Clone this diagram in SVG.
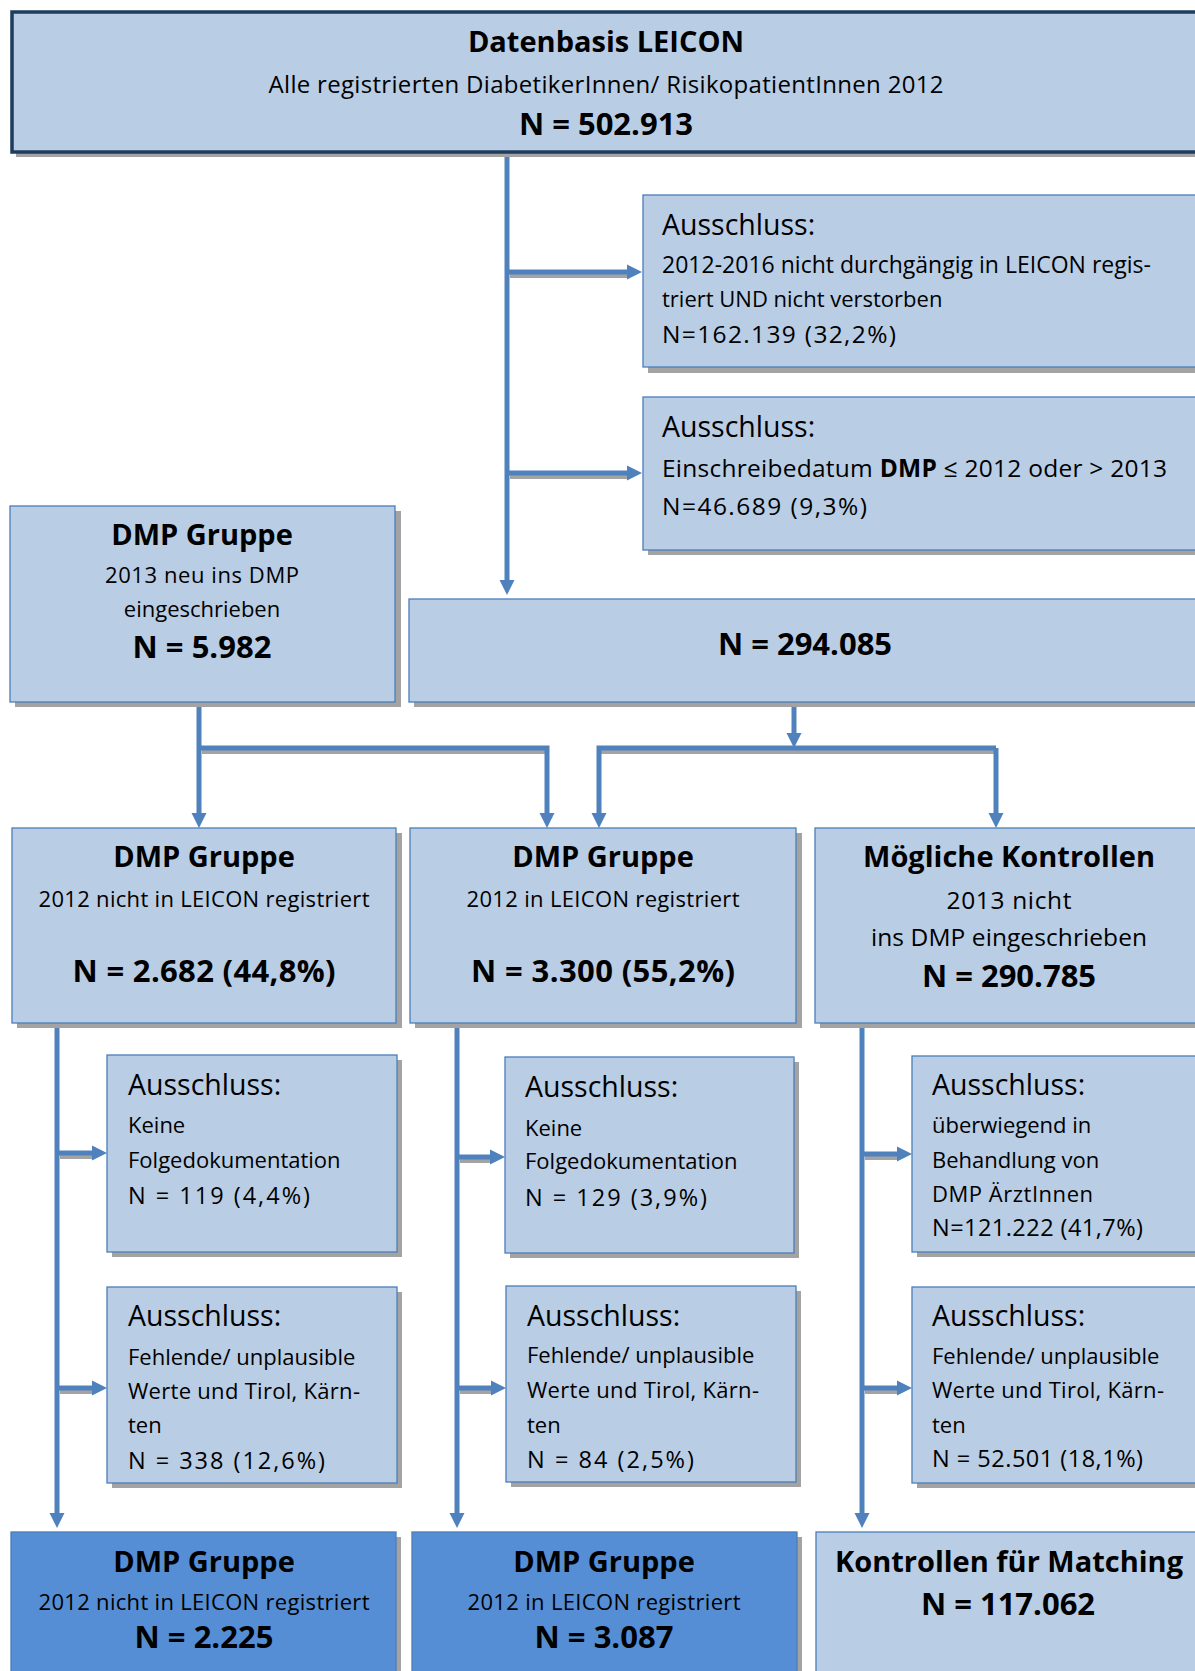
<svg xmlns="http://www.w3.org/2000/svg" width="1195" height="1671" viewBox="0 0 1195 1671">
<defs>
<style>
.box{fill:#B9CDE5;stroke:#4A7EBB;stroke-width:1.3}
.dark{fill:#558ED5;stroke:#4A7EBB;stroke-width:1.3}
.top{fill:#B9CDE5;stroke:#1F3B5F;stroke-width:3.5}
.sh{fill:#A3A3A3}
.con{fill:none;stroke:#4F81BD;stroke-width:5}
.consh{fill:none;stroke:#A3A3A3;stroke-width:4}
text{font-family:"Open Sans","Noto Sans","DejaVu Sans",sans-serif;fill:#000}
.t{font-size:29px;font-weight:bold;text-anchor:middle}
.s{font-size:22px;text-anchor:middle}
.n{font-size:31px;font-weight:bold;text-anchor:middle}
.h{font-size:28.5px}
.b{font-size:22px}
.bn{font-size:23.5px}
.bl{font-size:24.5px}
</style>
<marker id="ah" markerUnits="userSpaceOnUse" markerWidth="16" markerHeight="16" refX="0" refY="8" orient="auto">
<path d="M0,0.5 L15,8 L0,15.5 z" fill="#4F81BD"/>
</marker>
</defs>

<g id="connectors">
<g class="shadows">
<path class="consh" d="M510,276 H628"/>
<path class="consh" d="M510,477 H628"/>
<path class="consh" d="M202,752 H548"/>
<path class="consh" d="M601,752 H996"/>
<path class="consh" d="M60,1157 H93"/>
<path class="consh" d="M60,1392 H93"/>
<path class="consh" d="M460,1161 H491"/>
<path class="consh" d="M460,1392 H491"/>
<path class="consh" d="M865,1158 H898"/>
<path class="consh" d="M865,1392 H898"/>
</g>
<path class="con" d="M507,152 V580" marker-end="url(#ah)"/>
<path class="con" d="M507,272 H627" marker-end="url(#ah)"/>
<path class="con" d="M507,473 H627" marker-end="url(#ah)"/>
<path class="con" d="M199,702 V813" marker-end="url(#ah)"/>
<path class="con" d="M199,748 H547 V813" marker-end="url(#ah)"/>
<path class="con" d="M794,702 V733" marker-end="url(#ah)"/>
<path class="con" d="M996,748 H599 V813" marker-end="url(#ah)"/>
<path class="con" d="M996,748 V813" marker-end="url(#ah)"/>
<path class="con" d="M57,1023 V1513" marker-end="url(#ah)"/>
<path class="con" d="M57,1153 H92" marker-end="url(#ah)"/>
<path class="con" d="M57,1388 H92" marker-end="url(#ah)"/>
<path class="con" d="M457,1023 V1513" marker-end="url(#ah)"/>
<path class="con" d="M457,1157 H490" marker-end="url(#ah)"/>
<path class="con" d="M457,1388 H491" marker-end="url(#ah)"/>
<path class="con" d="M862,1023 V1513" marker-end="url(#ah)"/>
<path class="con" d="M862,1154 H897" marker-end="url(#ah)"/>
<path class="con" d="M862,1388 H897" marker-end="url(#ah)"/>
</g>

<g id="n_datenbasis">
<rect class="sh" x="16" y="152" width="1200" height="5"/>
<rect class="top" x="12" y="12" width="1200" height="140"/>
<text class="t" x="606" y="52">Datenbasis LEICON</text>
<text class="s" x="606" y="93" style="font-size:24px" textLength="675">Alle registrierten DiabetikerInnen/ RisikopatientInnen 2012</text>
<text class="n" x="606" y="135">N = 502.913</text>
</g>

<g id="n_ausschluss1">
<rect class="sh" x="648" y="200" width="570" height="173"/>
<rect class="box" x="643" y="195" width="570" height="172"/>
<text class="h" x="662" y="235">Ausschluss:</text>
<text class="b" x="662" y="273" style="font-size:23px" textLength="489">2012-2016 nicht durchgängig in LEICON regis-</text>
<text class="b" x="662" y="307">triert UND nicht verstorben</text>
<text class="bl" x="662" y="343" textLength="234">N=162.139 (32,2%)</text>
</g>

<g id="n_ausschluss2">
<rect class="sh" x="648" y="402" width="570" height="153"/>
<rect class="box" x="643" y="397" width="570" height="153"/>
<text class="h" x="662" y="437">Ausschluss:</text>
<text class="bl" x="662" y="477" textLength="505">Einschreibedatum <tspan font-weight="bold">DMP</tspan> ≤ 2012 oder &gt; 2013</text>
<text class="bl" x="662" y="515" textLength="205">N=46.689 (9,3%)</text>
</g>

<g id="n_dmp2013">
<rect class="sh" x="15" y="511" width="386" height="196"/>
<rect class="box" x="10" y="506" width="385" height="196"/>
<text class="t" x="202" y="545">DMP Gruppe</text>
<text class="s" x="202" y="583" textLength="194">2013 neu ins DMP</text>
<text class="s" x="202" y="617">eingeschrieben</text>
<text class="n" x="202" y="658">N = 5.982</text>
</g>

<g id="n_294085">
<rect class="sh" x="414" y="604" width="800" height="103"/>
<rect class="box" x="409" y="599" width="800" height="103"/>
<text class="n" x="805" y="655">N = 294.085</text>
</g>

<g id="n_dmp_nicht">
<rect class="sh" x="17" y="833" width="385" height="195"/>
<rect class="box" x="12" y="828" width="384" height="195"/>
<text class="t" x="204" y="867">DMP Gruppe</text>
<text class="s" x="204" y="907" textLength="331">2012 nicht in LEICON registriert</text>
<text class="n" x="204" y="982" textLength="263">N = 2.682 (44,8%)</text>
</g>

<g id="n_dmp_reg">
<rect class="sh" x="415" y="833" width="387" height="195"/>
<rect class="box" x="410" y="828" width="386" height="195"/>
<text class="t" x="603" y="867">DMP Gruppe</text>
<text class="s" x="603" y="907" textLength="273">2012 in LEICON registriert</text>
<text class="n" x="603" y="982" textLength="264">N = 3.300 (55,2%)</text>
</g>

<g id="n_kontrollen">
<rect class="sh" x="820" y="833" width="400" height="195"/>
<rect class="box" x="815" y="828" width="400" height="195"/>
<text class="t" x="1009" y="867">Mögliche Kontrollen</text>
<text class="s" x="1009" y="909" style="font-size:24.5px" textLength="125">2013 nicht</text>
<text class="s" x="1009" y="946" style="font-size:24.5px" textLength="276">ins DMP eingeschrieben</text>
<text class="n" x="1009" y="987">N = 290.785</text>
</g>

<g id="n_a_l1">
<rect class="sh" x="112" y="1060" width="290" height="197"/>
<rect class="box" x="107" y="1055" width="290" height="197"/>
<text class="h" x="128" y="1095">Ausschluss:</text>
<text class="b" x="128" y="1133">Keine</text>
<text class="b" x="128" y="1168">Folgedokumentation</text>
<text class="bn" x="128" y="1204" textLength="182">N = 119 (4,4%)</text>
</g>

<g id="n_a_l2">
<rect class="sh" x="112" y="1292" width="290" height="196"/>
<rect class="box" x="107" y="1287" width="290" height="196"/>
<text class="h" x="128" y="1326">Ausschluss:</text>
<text class="b" x="128" y="1365">Fehlende/ unplausible</text>
<text class="b" x="128" y="1399" textLength="232">Werte und Tirol, Kärn-</text>
<text class="b" x="128" y="1433">ten</text>
<text class="bn" x="128" y="1469" textLength="197">N = 338 (12,6%)</text>
</g>

<g id="n_a_m1">
<rect class="sh" x="510" y="1062" width="289" height="196"/>
<rect class="box" x="505" y="1057" width="289" height="196"/>
<text class="h" x="525" y="1097">Ausschluss:</text>
<text class="b" x="525" y="1136">Keine</text>
<text class="b" x="525" y="1169">Folgedokumentation</text>
<text class="bn" x="525" y="1206" textLength="182">N = 129 (3,9%)</text>
</g>

<g id="n_a_m2">
<rect class="sh" x="511" y="1291" width="290" height="196"/>
<rect class="box" x="506" y="1286" width="290" height="196"/>
<text class="h" x="527" y="1326">Ausschluss:</text>
<text class="b" x="527" y="1363">Fehlende/ unplausible</text>
<text class="b" x="527" y="1398" textLength="232">Werte und Tirol, Kärn-</text>
<text class="b" x="527" y="1433">ten</text>
<text class="bn" x="527" y="1468" textLength="167">N = 84 (2,5%)</text>
</g>

<g id="n_a_r1">
<rect class="sh" x="917" y="1061" width="300" height="196"/>
<rect class="box" x="912" y="1056" width="300" height="196"/>
<text class="h" x="932" y="1095">Ausschluss:</text>
<text class="b" x="932" y="1133">überwiegend in</text>
<text class="b" x="932" y="1168">Behandlung von</text>
<text class="b" x="932" y="1202" textLength="161">DMP ÄrztInnen</text>
<text class="bn" x="932" y="1236" textLength="211">N=121.222 (41,7%)</text>
</g>

<g id="n_a_r2">
<rect class="sh" x="917" y="1292" width="300" height="196"/>
<rect class="box" x="912" y="1287" width="300" height="196"/>
<text class="h" x="932" y="1326">Ausschluss:</text>
<text class="b" x="932" y="1364">Fehlende/ unplausible</text>
<text class="b" x="932" y="1398" textLength="232">Werte und Tirol, Kärn-</text>
<text class="b" x="932" y="1433">ten</text>
<text class="bn" x="932" y="1467" textLength="211">N = 52.501 (18,1%)</text>
</g>

<g id="n_final_nicht">
<rect class="sh" x="16" y="1537" width="385" height="150"/>
<rect class="dark" x="11" y="1532" width="385" height="150"/>
<text class="t" x="204" y="1572">DMP Gruppe</text>
<text class="s" x="204" y="1610" textLength="331">2012 nicht in LEICON registriert</text>
<text class="n" x="204" y="1648">N = 2.225</text>
</g>

<g id="n_final_reg">
<rect class="sh" x="417" y="1537" width="385" height="150"/>
<rect class="dark" x="412" y="1532" width="385" height="150"/>
<text class="t" x="604" y="1572">DMP Gruppe</text>
<text class="s" x="604" y="1610" textLength="273">2012 in LEICON registriert</text>
<text class="n" x="604" y="1648">N = 3.087</text>
</g>

<g id="n_final_kontrollen">
<rect class="sh" x="821" y="1537" width="400" height="150"/>
<rect class="box" x="816" y="1532" width="400" height="150"/>
<text class="t" x="1009" y="1572">Kontrollen für Matching</text>
<text class="n" x="1008" y="1615">N = 117.062</text>
</g>
</svg>
